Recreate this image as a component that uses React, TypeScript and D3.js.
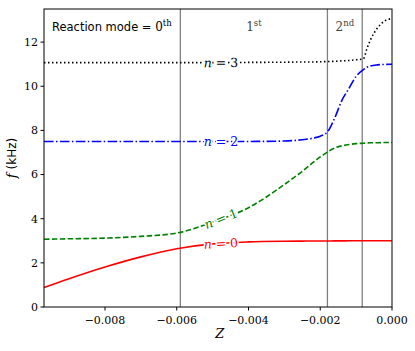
import React from "react";
import * as d3 from "d3";

// Z samples (shared by all curves)
const zValues = [
  -0.0097, -0.009, -0.008, -0.007, -0.006, -0.005, -0.004, -0.003, -0.0025,
  -0.0022, -0.002, -0.0018, -0.0016, -0.0014, -0.0012, -0.001, -0.0008,
  -0.0007, -0.0006, -0.0004, -0.0002, 0,
];

const n0 = [
  0.88, 1.28, 1.81, 2.27, 2.64, 2.86, 2.95, 2.98, 2.985, 2.99, 2.99, 2.99, 2.995,
  2.995, 3.0, 3.0, 3.0, 3.0, 3.0, 3.0, 3.0, 3.0,
];
const n1 = [
  3.07, 3.09, 3.12, 3.2, 3.35, 3.85, 4.5, 5.55, 6.15, 6.55, 6.8, 7.02, 7.2, 7.3,
  7.36, 7.4, 7.42, 7.43, 7.44, 7.44, 7.45, 7.45,
];
const n2 = [
  7.5, 7.5, 7.5, 7.5, 7.5, 7.5, 7.5, 7.52, 7.58, 7.65, 7.74, 7.93, 8.55, 9.35,
  9.9, 10.45, 10.75, 10.86, 10.92, 10.97, 10.99, 11.0,
];
const n3 = [
  11.07, 11.07, 11.07, 11.07, 11.07, 11.07, 11.08, 11.09, 11.1, 11.1, 11.11, 11.12,
  11.13, 11.15, 11.17, 11.2, 11.24, 11.7, 12.1, 12.65, 12.96, 13.07,
];

const boundaries = [-0.0059, -0.0018, -0.00083];
const yTicks = [0, 2, 4, 6, 8, 10, 12];
const xTicks = [-0.008, -0.006, -0.004, -0.002, 0];
const labelZ = -0.00477;

const series = [
  { name: "0", values: n0, color: "#ff0000", dash: "none" },
  { name: "1", values: n1, color: "#008000", dash: "5.5 2.4" },
  { name: "2", values: n2, color: "#0000ff", dash: "9.6 2.4 1.5 2.4" },
  { name: "3", values: n3, color: "#000000", dash: "1.5 2.5" },
];

const W = 415;
const H = 351;
const margin = { top: 9, right: 23, bottom: 44, left: 44 };

const serif = "DejaVu Serif";
const sans = "DejaVu Sans";

const fmt = (v: number) => (v < 0 ? "\u2212" : "") + Math.abs(v).toFixed(3);

export default function App() {
  const x = d3
    .scaleLinear()
    .domain([-0.0097, 0])
    .range([margin.left, W - margin.right]);
  const y = d3
    .scaleLinear()
    .domain([0, 13.5])
    .range([H - margin.bottom, margin.top]);

  const line = d3
    .line<number>()
    .x((_, i) => x(zValues[i]))
    .y((d) => y(d))
    .curve(d3.curveMonotoneX);

  const interp = (vals: number[], z: number) => {
    const i = d3.bisectLeft(zValues, z);
    const z0 = zValues[i - 1];
    const z1 = zValues[i];
    const t = (z - z0) / (z1 - z0);
    return vals[i - 1] + t * (vals[i] - vals[i - 1]);
  };

  const y0 = H - margin.bottom;
  const regions = [
    { label: "1", sup: "st", z: (boundaries[0] + boundaries[1]) / 2 },
    { label: "2", sup: "nd", z: (boundaries[1] + boundaries[2]) / 2 },
  ];

  return (
    <svg width={W} height={H} style={{ position: "absolute", left: 0, top: 0 }}>
      <rect width={W} height={H} fill="#fff" />
      {boundaries.map((b) => (
        <line
          key={b}
          x1={x(b)}
          x2={x(b)}
          y1={margin.top}
          y2={y0}
          stroke="#808080"
          strokeWidth={1.3}
        />
      ))}
      {series.map((s) => (
        <path
          key={s.name}
          d={line(s.values) || ""}
          fill="none"
          stroke={s.color}
          strokeWidth={1.6}
          strokeDasharray={s.dash}
        />
      ))}
      {series.map((s) => {
        const lz = labelZ;
        const ly = interp(s.values, lz);
        const dz = 0.0002;
        const dx = x(lz + dz) - x(lz - dz);
        const dy = y(interp(s.values, lz + dz)) - y(interp(s.values, lz - dz));
        const ang = (Math.atan2(dy, dx) * 180) / Math.PI;
        return (
          <text
            key={s.name}
            transform={`translate(${x(lz)},${y(ly)}) rotate(${ang})`}
            textAnchor="middle"
            dy="0.36em"
            fontFamily={serif}
            fontSize={12.5}
            fill={s.color}
            stroke="#fff"
            strokeWidth={3}
            strokeLinejoin="round"
            paintOrder="stroke"
          >
            <tspan fontStyle="italic">n</tspan>
            {" = " + s.name}
          </text>
        );
      })}
      {/* frame */}
      <rect
        x={margin.left}
        y={margin.top}
        width={W - margin.left - margin.right}
        height={y0 - margin.top}
        fill="none"
        stroke="#000"
        strokeWidth={1}
      />
      {yTicks.map((t) => (
        <g key={t} transform={`translate(${margin.left},${y(t)})`}>
          <line x1={-3.5} x2={0} stroke="#000" />
          <text
            x={-6}
            dy="0.35em"
            textAnchor="end"
            fontFamily={serif}
            fontSize={11}
          >
            {t}
          </text>
        </g>
      ))}
      {xTicks.map((t) => (
        <g key={t} transform={`translate(${x(t)},${y0})`}>
          <line y1={0} y2={3.5} stroke="#000" />
          <text y={17} textAnchor="middle" fontFamily={serif} fontSize={11}>
            {fmt(t)}
          </text>
        </g>
      ))}
      <text
        x={x(-0.0048)}
        y={338}
        textAnchor="middle"
        fontFamily={serif}
        fontStyle="italic"
        fontSize={13}
      >
        Z
      </text>
      <text
        transform={`translate(16,${(margin.top + y0) / 2}) rotate(-90)`}
        textAnchor="middle"
        fontSize={12}
        fontFamily={sans}
      >
        <tspan fontFamily={serif} fontStyle="italic" fontSize={13}>
          f
        </tspan>
        {" (kHz)"}
      </text>
      <text x={52} y={31} fontFamily={sans} fontSize={11.5}>
        {"Reaction mode = "}
        <tspan fontFamily={serif} fontSize={12}>
          0
        </tspan>
        <tspan fontFamily={serif} fontSize={8.5} dy={-5}>
          th
        </tspan>
      </text>
      {regions.map((r) => (
        <text
          key={r.label}
          x={x(r.z)}
          y={31}
          textAnchor="middle"
          fontFamily={serif}
          fontSize={12}
          fill="#444"
        >
          {r.label}
          <tspan fontSize={8.5} dy={-5}>
            {r.sup}
          </tspan>
        </text>
      ))}
    </svg>
  );
}
